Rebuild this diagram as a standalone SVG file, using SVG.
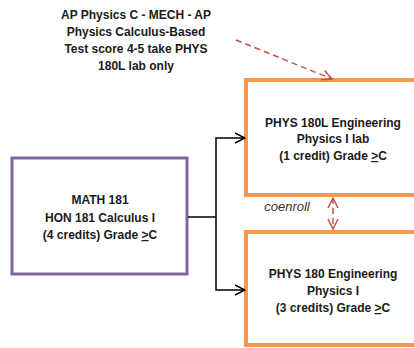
<svg xmlns="http://www.w3.org/2000/svg" width="414" height="348" viewBox="0 0 414 348">
<defs>
<style>
.t{font-family:"Liberation Sans",Arial,sans-serif;font-size:12px;font-weight:bold;fill:#1a1a1a;text-anchor:middle}
.it{font-family:"Liberation Sans",Arial,sans-serif;font-size:13px;font-style:italic;fill:#333;text-anchor:middle}
.purple{fill:#fff;stroke:#8064A2;stroke-width:3}
.orange{fill:#fff;stroke:#F79646;stroke-width:4}
.conn{fill:none;stroke:#000;stroke-width:1.5}
.dash{fill:none;stroke:#C0504D;stroke-width:1.5;stroke-dasharray:6,4}
.u{text-decoration:underline}
</style>
<marker id="ab" viewBox="0 0 12 12" refX="11" refY="6" markerWidth="12" markerHeight="12" markerUnits="userSpaceOnUse" orient="auto">
<path d="M1,1 L11,6 L1,11" fill="none" stroke="#000" stroke-width="1.5"/>
</marker>
<marker id="ar" viewBox="0 0 12 12" refX="11" refY="6" markerWidth="12" markerHeight="12" markerUnits="userSpaceOnUse" orient="auto-start-reverse">
<path d="M1,1 L11,6 L1,11" fill="none" stroke="#C0504D" stroke-width="1.5"/>
</marker>
</defs>
<rect width="414" height="348" fill="#fff"/>
<g id="note">
<text class="t" x="136" y="19">AP Physics C - MECH - AP</text>
<text class="t" x="136" y="36">Physics Calculus-Based</text>
<text class="t" x="136" y="53">Test score 4-5 take PHYS</text>
<text class="t" x="136" y="70">180L lab only</text>
</g>
<g id="math181">
<rect class="purple" x="12" y="158" width="175" height="116"/>
<text class="t" x="100" y="204">MATH 181</text>
<text class="t" x="100" y="222">HON 181 Calculus I</text>
<text class="t" x="100" y="239">(4 credits) Grade <tspan class="u">&gt;</tspan>C</text>
</g>
<g id="phys180l">
<rect class="orange" x="246" y="80" width="180" height="115"/>
<text class="t" x="333" y="127">PHYS 180L Engineering</text>
<text class="t" x="333" y="143">Physics I lab</text>
<text class="t" x="333" y="160">(1 credit) Grade <tspan class="u">&gt;</tspan>C</text>
</g>
<g id="phys180">
<rect class="orange" x="246" y="232" width="180" height="113"/>
<text class="t" x="333" y="278">PHYS 180 Engineering</text>
<text class="t" x="333" y="295">Physics I</text>
<text class="t" x="333" y="312">(3 credits) Grade <tspan class="u">&gt;</tspan>C</text>
</g>
<g id="connectors">
<path class="conn" d="M188,217 H216"/>
<path class="conn" d="M216,217 V138 H245" marker-end="url(#ab)"/>
<path class="conn" d="M216,217 V290 H245" marker-end="url(#ab)"/>
<path class="dash" d="M236,40 L332,79" marker-end="url(#ar)"/>
<path class="dash" d="M333,198 V229" marker-start="url(#ar)" marker-end="url(#ar)"/>
<text class="it" x="287" y="211">coenroll</text>
</g>
</svg>
